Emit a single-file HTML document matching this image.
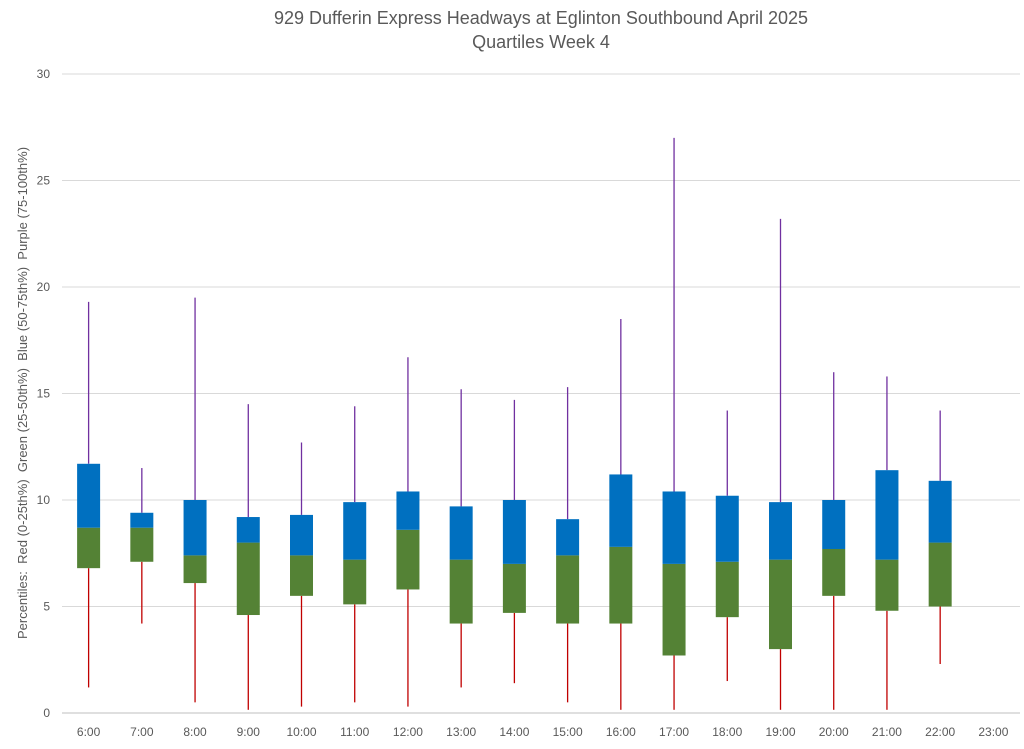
<!DOCTYPE html>
<html><head><meta charset="utf-8"><style>
body{margin:0;background:#fff;font-family:"Liberation Sans",sans-serif;}
svg text{font-family:"Liberation Sans",sans-serif;fill:#595959;}
</style></head><body>
<svg id="chart" width="1024" height="744" xmlns="http://www.w3.org/2000/svg">
<text x="541" y="24" font-size="18" text-anchor="middle">929 Dufferin Express Headways at Eglinton Southbound April 2025</text>
<text x="541" y="48" font-size="18" text-anchor="middle">Quartiles Week 4</text>
<text transform="translate(27,393) rotate(-90)" font-size="13" text-anchor="middle" xml:space="preserve">Percentiles:  Red (0-25th%)  Green (25-50th%)  Blue (50-75th%)  Purple (75-100th%)</text>
<g id="grid"></g><g id="marks"></g><g id="labels"></g>
</svg>
<script>
const categories=["6:00","7:00","8:00","9:00","10:00","11:00","12:00","13:00","14:00","15:00","16:00","17:00","18:00","19:00","20:00","21:00","22:00","23:00"];
const minVals=[1.2,4.2,0.5,0.15,0.3,0.5,0.3,1.2,1.4,0.5,0.15,0.15,1.5,0.15,0.15,0.15,2.3,null];
const q1Vals=[6.8,7.1,6.1,4.6,5.5,5.1,5.8,4.2,4.7,4.2,4.2,2.7,4.5,3.0,5.5,4.8,5.0,null];
const medVals=[8.7,8.7,7.4,8.0,7.4,7.2,8.6,7.2,7.0,7.4,7.8,7.0,7.1,7.2,7.7,7.2,8.0,null];
const q3Vals=[11.7,9.4,10.0,9.2,9.3,9.9,10.4,9.7,10.0,9.1,11.2,10.4,10.2,9.9,10.0,11.4,10.9,null];
const maxVals=[19.3,11.5,19.5,14.5,12.7,14.4,16.7,15.2,14.7,15.3,18.5,27.0,14.2,23.2,16.0,15.8,14.2,null];
const yTicks=[0,5,10,15,20,25,30];
const NS="http://www.w3.org/2000/svg";
const L=62,R=1020,T=74,B=713;
const y=v=>B-(v/30)*(B-T);
const bw=(R-L)/categories.length;
const x=i=>L+bw*(i+0.5);
function mk(tag,attrs,parent,text){const e=document.createElementNS(NS,tag);for(const k in attrs)e.setAttribute(k,attrs[k]);if(text!==undefined)e.textContent=text;document.getElementById(parent).appendChild(e);return e;}
yTicks.forEach(t=>{
 const g=mk('line',{x1:L,x2:R,y1:y(t),y2:y(t),stroke:t===0?'#bfbfbf':'#d9d9d9','stroke-width':1},'grid');
 
 
 const tl=mk('text',{x:50,y:y(t)+4,'font-size':12,'text-anchor':'end'},'labels',t);
 
 
});
categories.forEach((c,i)=>{
 const tl=mk('text',{x:x(i),y:736,'font-size':12,'text-anchor':'middle'},'labels',c);
 
 
 if(minVals[i]==null)return;
 const cx=x(i),w=23;
 const lw=mk('line',{x1:cx,x2:cx,y1:y(minVals[i]),y2:y(q1Vals[i]),stroke:'#C00000','stroke-width':1.3},'marks');
 
 
 const uw=mk('line',{x1:cx,x2:cx,y1:y(q3Vals[i]),y2:y(maxVals[i]),stroke:'#7030A0','stroke-width':1.3},'marks');
 
 
 const gb=mk('rect',{x:cx-w/2,y:y(medVals[i]),width:w,height:y(q1Vals[i])-y(medVals[i]),fill:'#548235'},'marks');
 
 
 const bb=mk('rect',{x:cx-w/2,y:y(q3Vals[i]),width:w,height:y(medVals[i])-y(q3Vals[i]),fill:'#0070C0'},'marks');
 
 
});
</script>
</body></html>
